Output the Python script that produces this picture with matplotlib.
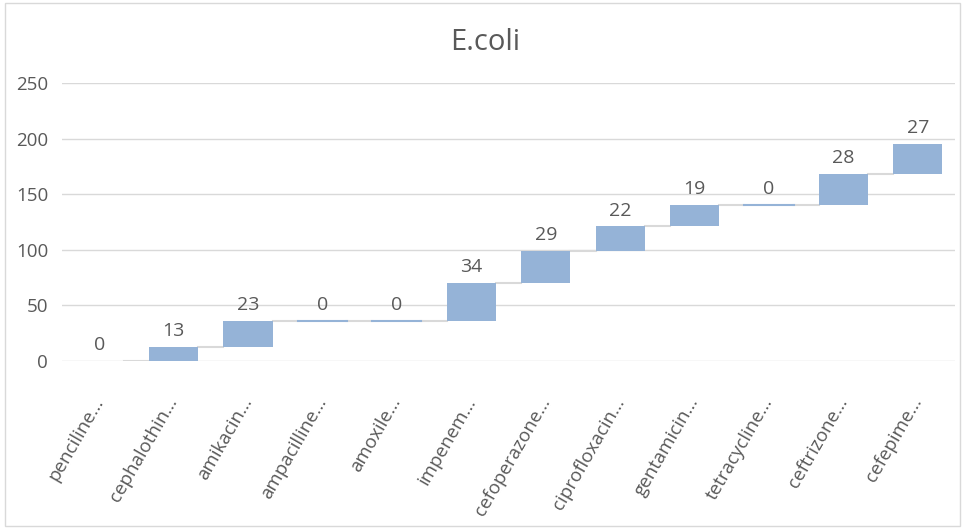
import matplotlib.pyplot as plt
import numpy as np
from matplotlib.patches import Rectangle

drugs = ['penciline...', 'cephalothin...', 'amikacin...', 'ampacilline...', 'amoxile...',
         'impenem...', 'cefoperazone...', 'ciprofloxacin...', 'gentamicin...',
         'tetracycline...', 'ceftrizone...', 'cefepime...']
counts = [0, 13, 23, 0, 0, 34, 29, 22, 19, 0, 28, 27]

plt.rcParams['font.family'] = ['Open Sans', 'DejaVu Sans']

bar_color = '#95B3D7'
grid_color = '#D9D9D9'
text_color = '#595959'

vals = np.array(counts, dtype=float)
tops = np.cumsum(vals)
bottoms = tops - vals
x = np.arange(len(drugs))
width = 0.66

fig = plt.figure(figsize=(9.65, 5.29), dpi=100)
ax = fig.add_axes([62 / 965, 1 - 361 / 529, 893 / 965, 278 / 529])

ax.bar(x, vals, width, bottom=bottoms, color=bar_color, zorder=3)
# zero steps still show as a thin line
for i in x:
    if vals[i] == 0 and tops[i] > 0:
        ax.plot([i - width / 2, i + width / 2], [tops[i], tops[i]],
                color=bar_color, lw=1.5, zorder=3)

# connectors between steps
for i in x[:-1]:
    ax.plot([i + width / 2, i + 1 - width / 2], [tops[i], tops[i]],
            color=grid_color, lw=1.5, zorder=2)

for i in x:
    ax.annotate(f'{counts[i]:g}', (i, tops[i]), xytext=(0, 5), textcoords='offset points',
                ha='center', va='bottom', fontsize=14, color=text_color)

ax.set_xlim(-0.5, len(drugs) - 0.5)
ax.set_ylim(0, 250)
ax.set_yticks(np.arange(0, 251, 50))
ax.yaxis.grid(True, color=grid_color, lw=1)
ax.set_axisbelow(True)
for s in ax.spines.values():
    s.set_visible(False)
ax.tick_params(axis='both', length=0, colors=text_color, labelsize=13.5)
ax.tick_params(axis='y', pad=10)
ax.set_xticks(x)
ax.set_xticklabels(drugs, rotation=60, ha='right', va='center', rotation_mode='anchor')
ax.tick_params(axis='x', pad=27)

fig.text(0.503, 0.92, 'E.coli', ha='center', va='center', fontsize=21, color=text_color)
fig.patches.append(Rectangle((0.005, 0.005), 0.99, 0.99, transform=fig.transFigure,
                             fill=False, edgecolor=grid_color, lw=1))

fig.savefig('out.png', dpi=100)
